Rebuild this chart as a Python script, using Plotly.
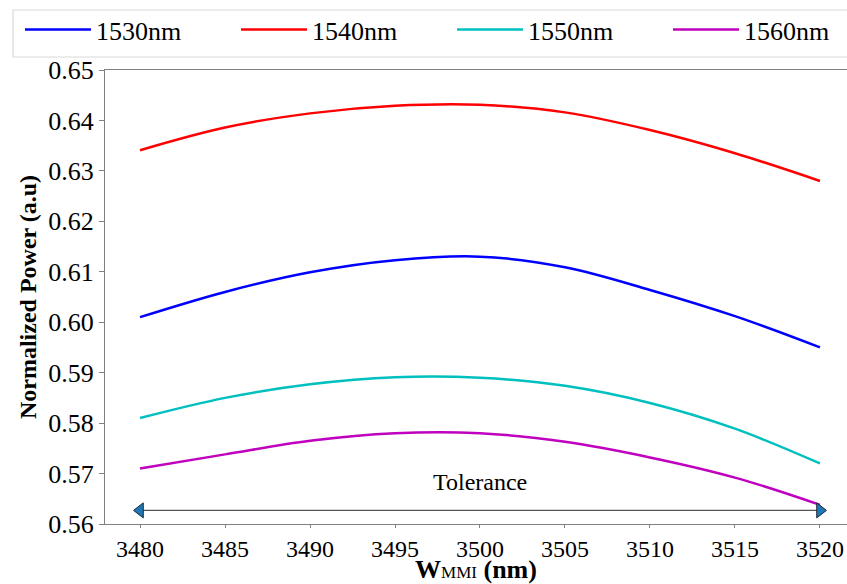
import plotly.graph_objects as go

# ---- data ----
w_mmi = [3480, 3485, 3490, 3495, 3500, 3505, 3510, 3515, 3520]
p_1530 = [0.6010, 0.6060, 0.6099, 0.6123, 0.6130, 0.6109, 0.6064, 0.6012, 0.5950]
p_1540 = [0.6341, 0.6386, 0.6414, 0.6429, 0.6431, 0.6416, 0.6381, 0.6335, 0.6280]
p_1550 = [0.5810, 0.5850, 0.5877, 0.5891, 0.5890, 0.5874, 0.5840, 0.5789, 0.5720]
p_1560 = [0.5710, 0.5738, 0.5765, 0.5780, 0.5780, 0.5763, 0.5732, 0.5692, 0.5638]
series_names = ["1530nm", "1540nm", "1550nm", "1560nm"]
tolerance_x = [3480, 3520]
tolerance_y = [0.5627, 0.5627]
tolerance_label = "Tolerance"
y_ticks = [0.56, 0.57, 0.58, 0.59, 0.60, 0.61, 0.62, 0.63, 0.64, 0.65]
x_ticks = [3480, 3485, 3490, 3495, 3500, 3505, 3510, 3515, 3520]

FONT = "Liberation Serif"
colors = ["#0000ff", "#ff0000", "#00bfbf", "#bf00bf"]

W, H = 847, 584
ML, MR, MT, MB = 105, 0, 70, 60
PW, PH = W - ML - MR, H - MT - MB

def px_to_paper_x(px):
    return (px - ML) / PW

def px_to_paper_y(py):
    return (H - MB - py) / PH

legend_ids = ["legend", "legend2", "legend3", "legend4"]

fig = go.Figure()
for name, ys, c, lg in zip(series_names, [p_1530, p_1540, p_1550, p_1560], colors, legend_ids):
    fig.add_trace(go.Scatter(x=w_mmi, y=ys, mode="lines", name=name, legend=lg,
                             line=dict(color=c, width=2.5, shape="spline", smoothing=1.0)))

# tolerance double arrow
fig.add_trace(go.Scatter(x=tolerance_x, y=tolerance_y, mode="lines",
                         line=dict(color="#555555", width=1.2), showlegend=False,
                         hoverinfo="skip"))
fig.add_trace(go.Scatter(x=tolerance_x, y=tolerance_y, mode="markers",
                         marker=dict(symbol=["triangle-left", "triangle-right"], size=13,
                                     color="#1f77b4", line=dict(color="#1b2a3a", width=1)),
                         showlegend=False, hoverinfo="skip"))
fig.add_annotation(x=(tolerance_x[0] + tolerance_x[1]) / 2, y=0.5683, text=tolerance_label,
                   showarrow=False, font=dict(family=FONT, size=24, color="black"),
                   xref="x", yref="y")

axis_common = dict(showgrid=False, zeroline=False, showline=True, linecolor="#808080",
                   linewidth=1.2, ticks="outside", tickcolor="#808080", automargin=False)

fig.update_xaxes(range=[3477.94, 3521.59], tickvals=x_ticks, mirror=True, ticklen=3,
                 tickfont=dict(family=FONT, size=24, color="black"),
                 title=dict(text="<b>W</b><span style='font-size:17px'>MMI</span><b> (nm)</b>",
                            font=dict(family=FONT, size=26, color="black"), standoff=0),
                 **axis_common)
fig.update_yaxes(range=[0.56, 0.65], tickvals=y_ticks, tickformat=".2f", ticklen=5,
                 tickfont=dict(family=FONT, size=26, color="black"),
                 title=dict(text="<b>Normalized Power (a.u)</b>",
                            font=dict(family=FONT, size=24, color="black"), standoff=4),
                 **axis_common)

# legend frame
fig.add_shape(type="rect", xref="paper", yref="paper",
              x0=px_to_paper_x(13), x1=px_to_paper_x(852),
              y0=px_to_paper_y(57), y1=px_to_paper_y(10),
              line=dict(color="#d9d9d9", width=1.2), fillcolor="white", layer="above")

item_w = 66
legend_layout = {}
for i, lg in enumerate(legend_ids):
    legend_layout[lg] = dict(
        orientation="h", x=px_to_paper_x(20 + 216 * i), xanchor="left",
        y=px_to_paper_y(6), yanchor="top",
        font=dict(family=FONT, size=26, color="black"),
        borderwidth=0, bgcolor="rgba(0,0,0,0)", itemwidth=item_w,
    )

fig.update_layout(
    width=W, height=H,
    margin=dict(l=ML, r=MR, t=MT, b=MB),
    paper_bgcolor="white", plot_bgcolor="white",
    font=dict(family=FONT, color="black"),
    showlegend=True,
    **legend_layout,
)

fig.write_html("out.html")
